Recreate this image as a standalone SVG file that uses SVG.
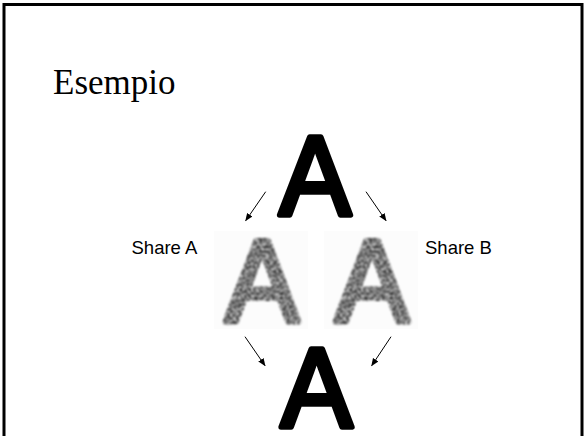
<svg xmlns="http://www.w3.org/2000/svg" width="584" height="436" viewBox="0 0 584 436">
  <defs>
    <style>
      .title { font-family: "Liberation Serif", "Times New Roman", serif; font-size: 35px; fill: #000; }
      .label { font-family: "Liberation Sans", Arial, sans-serif; font-size: 18.5px; fill: #000; }
      .big { font-family: "Liberation Sans", Arial, sans-serif; font-size: 113px; text-anchor: middle;
             fill: #000; stroke: #000; stroke-width: 5.5; stroke-linejoin: round; }
      .share { font-family: "Liberation Sans", Arial, sans-serif; font-size: 116px; text-anchor: middle;
               fill: #777; stroke: #777; stroke-width: 6; stroke-linejoin: round; filter: url(#grain); }
      .arrow { stroke: #000; stroke-width: 1; fill: none; marker-end: url(#head); }
    </style>
    <marker id="head" viewBox="0 0 10 10" refX="9" refY="5" markerWidth="8" markerHeight="8"
            markerUnits="userSpaceOnUse" orient="auto">
      <path d="M0,1 L10,5 L0,9 Z" fill="#000"/>
    </marker>
    <!-- speckled grey texture for the share images -->
    <filter id="grain" x="-15%" y="-15%" width="130%" height="130%" color-interpolation-filters="sRGB">
      <feTurbulence type="fractalNoise" baseFrequency="0.45" numOctaves="2" seed="7" result="noise"/>
      <feColorMatrix in="noise" type="matrix"
        values="1.8 0 0 0 -0.42
                1.8 0 0 0 -0.42
                1.8 0 0 0 -0.42
                0 0 0 0 1" result="grey"/>
      <feComposite in="grey" in2="SourceAlpha" operator="in" result="tex"/>
      <feGaussianBlur in="tex" stdDeviation="0.9"/>
    </filter>
  </defs>

  <!-- slide frame -->
  <rect x="4" y="4.5" width="578" height="440" fill="#fff" stroke="#000" stroke-width="3"/>

  <text class="title" x="53" y="94">Esempio</text>

  <g id="secret">
    <text class="big" transform="translate(315 215) scale(0.95 1)">A</text>
  </g>

  <g id="shareA">
    <rect x="214" y="231" width="94" height="98" fill="#fcfcfc"/>
    <text class="share" transform="translate(262 322) scale(0.95 1)">A</text>
    <text class="label" x="131.5" y="254">Share A</text>
  </g>

  <g id="shareB">
    <rect x="324" y="231" width="94" height="98" fill="#fcfcfc"/>
    <text class="share" transform="translate(372 322) scale(0.95 1)">A</text>
    <text class="label" x="425" y="254">Share B</text>
  </g>

  <g id="result">
    <text class="big" transform="translate(316.5 427) scale(0.95 1)">A</text>
  </g>

  <g id="connectors">
    <line class="arrow" x1="265.7" y1="191.7" x2="245.7" y2="220.7"/>
    <line class="arrow" x1="366" y1="191.7" x2="386" y2="220.7"/>
    <line class="arrow" x1="245" y1="336.7" x2="265" y2="365.7"/>
    <line class="arrow" x1="391" y1="336.7" x2="371.7" y2="365.7"/>
  </g>
</svg>
